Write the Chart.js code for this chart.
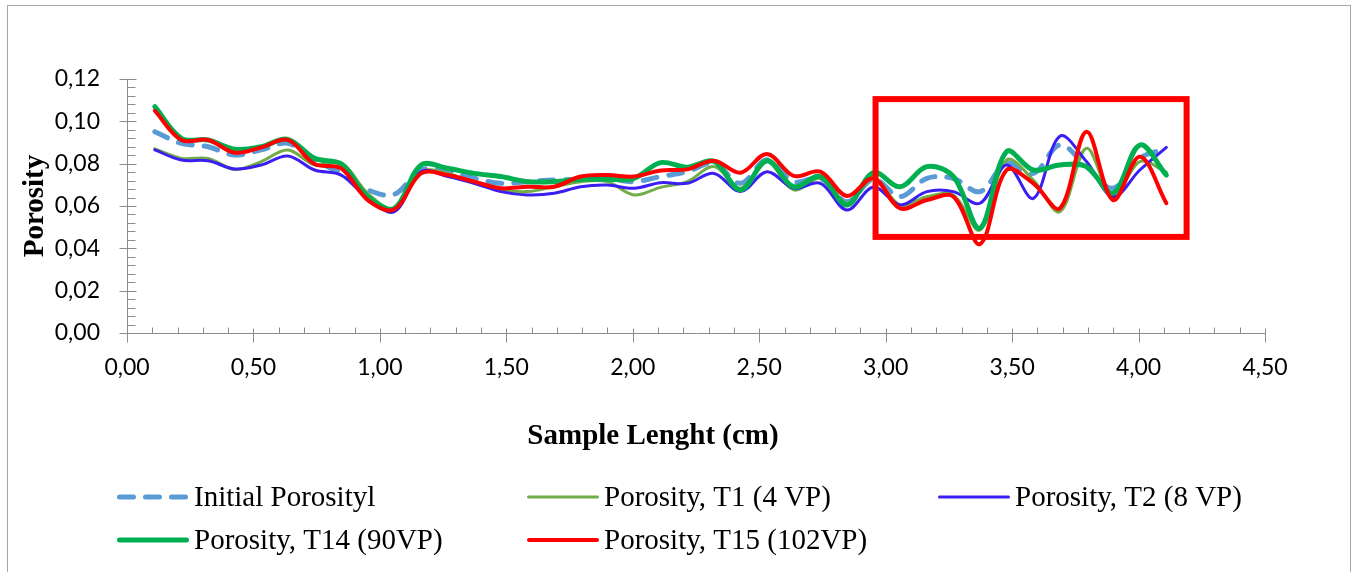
<!DOCTYPE html>
<html><head><meta charset="utf-8">
<script src="https://cdn.jsdelivr.net/npm/chart.js@4.4.1/dist/chart.umd.min.js"></script>
<style>html,body{margin:0;padding:0;background:#fff;}#wrap{width:1359px;height:572px;position:relative;}</style>
</head><body><div id="wrap"><canvas id="c" width="1359" height="572"></canvas></div>
<script>
// ---- data ----
const sampleLength = [0.11,0.215,0.321,0.426,0.531,0.636,0.742,0.847,0.952,1.057,1.163,1.268,1.373,1.478,1.584,1.689,1.794,1.899,2.005,2.11,2.215,2.321,2.426,2.531,2.636,2.742,2.847,2.952,3.057,3.163,3.268,3.373,3.478,3.584,3.689,3.794,3.899,4.005,4.11];
const initialPorosity = [0.0951,0.0896,0.0880,0.0841,0.0865,0.0896,0.0815,0.0755,0.0676,0.0655,0.0770,0.0762,0.0731,0.0707,0.0715,0.0723,0.0726,0.0731,0.0715,0.0739,0.0762,0.0802,0.0707,0.0818,0.0715,0.0731,0.0620,0.0727,0.0644,0.0731,0.0730,0.0668,0.0802,0.0754,0.0888,0.0786,0.0684,0.0825,0.0873];
const porosityT1 = [0.0870,0.0825,0.0825,0.0773,0.0810,0.0865,0.0794,0.0805,0.0660,0.0589,0.0762,0.0754,0.0707,0.0676,0.0668,0.0691,0.0715,0.0715,0.0652,0.0688,0.0715,0.0786,0.0684,0.0810,0.0676,0.0731,0.0613,0.0730,0.0605,0.0644,0.0652,0.0487,0.0817,0.0723,0.0573,0.0873,0.0644,0.0810,0.0760];
const porosityT2 = [0.0865,0.0817,0.0814,0.0775,0.0794,0.0836,0.0770,0.0746,0.0636,0.0573,0.0762,0.0739,0.0707,0.0668,0.0652,0.0660,0.0691,0.0699,0.0684,0.0710,0.0707,0.0754,0.0668,0.0762,0.0684,0.0707,0.0581,0.0690,0.0605,0.0668,0.0668,0.0613,0.0794,0.0636,0.0930,0.0810,0.0644,0.0770,0.0877];
const porosityT14 = [0.1069,0.0920,0.0912,0.0868,0.0880,0.0915,0.0825,0.0798,0.0644,0.0589,0.0794,0.0778,0.0754,0.0739,0.0715,0.0715,0.0726,0.0726,0.0731,0.0805,0.0783,0.0810,0.0676,0.0814,0.0691,0.0739,0.0605,0.0758,0.0691,0.0786,0.0739,0.0495,0.0857,0.0770,0.0794,0.0786,0.0660,0.0888,0.0746];
const porosityT15 = [0.1050,0.0912,0.0912,0.0852,0.0877,0.0912,0.0798,0.0778,0.0628,0.0584,0.0754,0.0746,0.0715,0.0684,0.0691,0.0691,0.0739,0.0746,0.0739,0.0768,0.0773,0.0814,0.0757,0.0846,0.0742,0.0762,0.0647,0.0731,0.0589,0.0628,0.0644,0.0420,0.0770,0.0707,0.0589,0.0951,0.0628,0.0833,0.0613];
const seriesNames = ['Initial Porosityl','Porosity, T1 (4 VP)','Porosity, T2 (8 VP)','Porosity, T14 (90VP)','Porosity, T15 (102VP)'];
const xTickLabels = ['0,00','0,50','1,00','1,50','2,00','2,50','3,00','3,50','4,00','4,50'];
const yTickLabels = ['0,00','0,02','0,04','0,06','0,08','0,10','0,12'];
const xAxisTitle = 'Sample Lenght (cm)';
const yAxisTitle = 'Porosity';
const highlightX = [2.96, 4.19];
const highlightY = [0.0454, 0.1105];

// ---- styles ----
const styles = [
  {color:'#5b9bd5', width:5, dash:[14,12]},
  {color:'#70ad47', width:3, dash:[]},
  {color:'#3a1ef2', width:3, dash:[]},
  {color:'#00b050', width:5, dash:[]},
  {color:'#ff0000', width:4, dash:[]}
];
const seriesValues = [initialPorosity, porosityT1, porosityT2, porosityT14, porosityT15];
const AXIS = '#8c8c8c';

const datasets = seriesValues.map((vals, k) => ({
  label: seriesNames[k],
  data: sampleLength.map((x, i) => ({x: x, y: vals[i]})),
  borderColor: styles[k].color,
  backgroundColor: styles[k].color,
  borderWidth: styles[k].width,
  borderDash: styles[k].dash,
  borderCapStyle: 'round',
  borderJoinStyle: 'round',
  tension: 0.35,
  pointRadius: 0,
  fill: false,
  order: 5 - k
}));

const decor = {
  id: 'decor',
  beforeDraw(chart) {
    const ctx = chart.ctx;
    ctx.save();
    ctx.fillStyle = '#fff';
    ctx.fillRect(0, 0, chart.width, chart.height);
    ctx.strokeStyle = '#a6a6a6';
    ctx.lineWidth = 1;
    ctx.strokeRect(7.5, 5.5, 1343, 600);
    ctx.restore();
  },
  afterDatasetsDraw(chart) {
    const ctx = chart.ctx;
    const xs = chart.scales.x, ys = chart.scales.y;
    ctx.save();
    // highlight box
    const bx1 = xs.getPixelForValue(highlightX[0]), bx2 = xs.getPixelForValue(highlightX[1]);
    const by1 = ys.getPixelForValue(highlightY[1]), by2 = ys.getPixelForValue(highlightY[0]);
    ctx.strokeStyle = '#ff0000';
    ctx.lineWidth = 6;
    ctx.lineJoin = 'miter';
    ctx.strokeRect(bx1, by1, bx2 - bx1, by2 - by1);
    ctx.restore();
  },
  afterDraw(chart) {
    const ctx = chart.ctx;
    const xs = chart.scales.x, ys = chart.scales.y;
    const area = chart.chartArea;
    ctx.save();
    ctx.strokeStyle = AXIS;
    ctx.lineWidth = 1;
    ctx.beginPath();
    // y ticks
    const ax = Math.round(area.left) + 0.5;
    for (let k = 0; k <= 30; k++) {
      const py = Math.round(ys.getPixelForValue(k * 0.004)) + 0.5;
      if (k % 5 === 0) { ctx.moveTo(ax - 8, py); ctx.lineTo(ax + 9, py); }
      else { ctx.moveTo(ax, py); ctx.lineTo(ax + 8, py); }
    }
    // x ticks
    const ay = Math.round(area.bottom) + 0.5;
    for (let k = 0; k <= 45; k++) {
      const px = Math.round(xs.getPixelForValue(k * 0.1)) + 0.5;
      if (k % 5 === 0) { ctx.moveTo(px, ay - 5); ctx.lineTo(px, ay + 9); }
      else { ctx.moveTo(px, ay - 6); ctx.lineTo(px, ay); }
    }
    ctx.stroke();

    // axis titles
    ctx.fillStyle = '#000';
    ctx.font = 'bold 29px "Liberation Serif", "DejaVu Serif", serif';
    ctx.textAlign = 'center';
    ctx.textBaseline = 'middle';
    ctx.fillText(xAxisTitle, 653, 437);
    ctx.save();
    ctx.translate(36, (area.top + area.bottom) / 2);
    ctx.rotate(-Math.PI / 2);
    ctx.fillText(yAxisTitle, 0, 0);
    ctx.restore();

    // legend
    const pos = [[117,497],[527,497],[938,497],[117,540],[527,540]];
    ctx.font = '29px "Liberation Serif", "DejaVu Serif", serif';
    ctx.textAlign = 'left';
    ctx.textBaseline = 'middle';
    for (let k = 0; k < 5; k++) {
      const [lx, ly] = pos[k];
      const st = styles[k];
      ctx.save();
      ctx.strokeStyle = st.color;
      ctx.lineWidth = st.width;
      ctx.lineCap = 'round';
      ctx.setLineDash(st.dash);
      ctx.beginPath();
      ctx.moveTo(lx + st.width / 2, ly);
      ctx.lineTo(lx + 72 - st.width / 2, ly);
      ctx.stroke();
      ctx.restore();
      ctx.fillStyle = '#000';
      ctx.fillText(seriesNames[k], lx + 77, ly + 1);
    }
    ctx.restore();
  }
};

new Chart(document.getElementById('c'), {
  type: 'line',
  data: { datasets: datasets },
  plugins: [decor],
  options: {
    responsive: false,
    devicePixelRatio: 1,
    animation: false,
    layout: { padding: { left: 0, right: 94, top: 79, bottom: 0 } },
    plugins: { legend: { display: false }, tooltip: { enabled: false } },
    scales: {
      x: {
        type: 'linear', min: 0, max: 4.5,
        afterFit(s) { s.height = 239; },
        grid: { display: false, drawTicks: false },
        border: { display: true, color: AXIS, width: 1 },
        ticks: { stepSize: 0.5, padding: 21, color: '#000', maxRotation: 0, autoSkip: false,
          font: { family: 'Lato, "Open Sans", sans-serif', size: 23 },
          callback: (v, i) => xTickLabels[i] }
      },
      y: {
        type: 'linear', min: 0, max: 0.12,
        afterFit(s) { s.width = 127; },
        grid: { display: false, drawTicks: false },
        border: { display: true, color: AXIS, width: 1 },
        ticks: { stepSize: 0.02, padding: 27, color: '#000',
          font: { family: 'Lato, "Open Sans", sans-serif', size: 23 },
          callback: (v, i) => yTickLabels[i] }
      }
    }
  }
});
</script></body></html>
